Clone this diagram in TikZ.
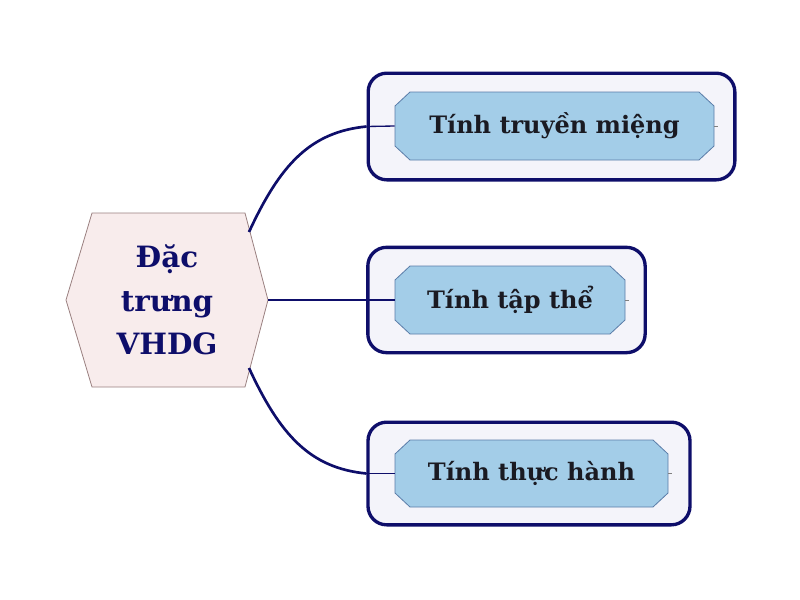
\documentclass[tikz,border=0pt]{standalone}
\usepackage{fontspec}
\setmainfont{DejaVu Serif}
\definecolor{navy}{HTML}{0E0E6A}
\definecolor{hexfill}{HTML}{F8ECEC}
\definecolor{hexline}{HTML}{9A8080}
\definecolor{boxfill}{HTML}{A3CDE8}
\definecolor{boxline}{HTML}{5A7CA8}
\definecolor{outfill}{HTML}{F4F4FA}
\definecolor{txt}{HTML}{1A1A22}
\tikzset{
  outerbox/.style={draw=navy, line width=2.5pt, fill=outfill, rounded corners=14pt, inner sep=0pt},
  chshape/.style={draw=boxline, line width=0.6pt, fill=boxfill},
  innerbox/.style={inner sep=0pt, font=\fontsize{18}{22}\selectfont\bfseries, text=txt},
  conn/.style={draw=navy, line width=2pt},
  thinconn/.style={draw=navy, line width=1pt},
  tick/.style={draw=gray, line width=0.6pt}
}
% #1 name, #2 left, #3 right, #4 top, #5 bottom, #6 text
\newcommand{\chbox}[6]{%
  \path[chshape] (#2+15,#4) -- (#3-15,#4) -- (#3,#4+14) -- (#3,#5-14) -- (#3-15,#5) -- (#2+15,#5) -- (#2,#5-14) -- (#2,#4+14) -- cycle;
  \node[innerbox, minimum width={(#3-#2)*0.75pt}, minimum height={(#5-#4)*0.75pt}] (#1) at ({(#2+#3)/2},{(#4+#5)/2}) {#6};
}
\begin{document}
\begin{tikzpicture}[x=0.75pt,y=-0.75pt]
\useasboundingbox (0,0) rectangle (800,600);
% hexagon
\coordinate (hL) at (66,300);
\coordinate (hTL) at (92,213);
\coordinate (hTR) at (245,213);
\coordinate (hR) at (268,300);
\coordinate (hBR) at (245,387);
\coordinate (hBL) at (92,387);
\coordinate (hU) at (249,232);
\coordinate (hD) at (249,368);
\draw[fill=hexfill, draw=hexline, line width=0.6pt] (hL) -- (hTL) -- (hTR) -- (hR) -- (hBR) -- (hBL) -- cycle;
\node[align=center, text=navy, font=\fontsize{22}{32.5}\selectfont\bfseries] (hex) at (167,300) {Đặc\\trưng\\VHDG};
% outer boxes
\node[outerbox, minimum width=275pt, minimum height=80pt] (o1) at (551.5,126.5) {};
\node[outerbox, minimum width=208pt, minimum height=79pt] (o2) at (506.5,300) {};
\node[outerbox, minimum width=241.5pt, minimum height=77pt] (o3) at (529,473.5) {};
% inner boxes
\chbox{i1}{395}{714}{92}{160}{Tính truyền miệng}
\chbox{i2}{395}{625}{266}{334}{Tính tập thể}
\chbox{i3}{395}{668}{440}{507}{Tính thực hành}
% ticks
\draw[tick] (i1.east) -- ++(4,0);
\draw[tick] (i2.east) -- ++(4,0);
\draw[tick] (i3.east) -- ++(4,0);
% connectors
\draw[conn] (hU) .. controls (280,165) and (310,132) .. (o1.west);
\draw[thinconn] (o1.west) -- (i1.west);
\draw[conn] (hR) -- (o2.west);
\draw[thinconn] (o2.west) -- (i2.west);
\draw[conn] (hD) .. controls (280,435) and (310,468) .. (o3.west);
\draw[thinconn] (o3.west) -- (i3.west);
\end{tikzpicture}
\end{document}
